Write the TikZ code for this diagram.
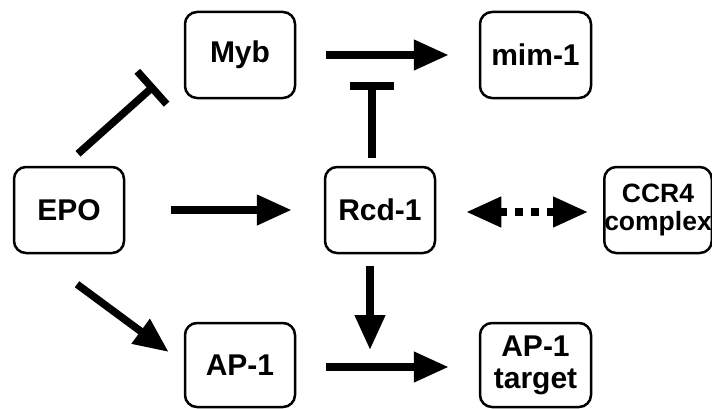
\documentclass[tikz,border=0pt]{standalone}
\usepackage{fontspec}
\setmainfont{Liberation Sans}
\usetikzlibrary{arrows.meta,calc}
\begin{document}
\begin{tikzpicture}[x=1pt,y=1pt,
  box/.style={draw=black,line width=2.5pt,rounded corners=12pt,minimum width=110pt,minimum height=86pt,inner sep=0pt,align=center,font=\fontsize{30}{32}\selectfont\bfseries},
  act/.style={line width=7.5pt,-{Triangle[length=35pt,width=29pt]}},
  inhib/.style={line width=7.5pt,-{Bar[width=44pt,line width=7.5pt]}},
  both/.style={line width=7.5pt,dash pattern=on 8pt off 8pt,{Triangle[length=35pt,width=29pt]}-{Triangle[length=35pt,width=29pt]}}]
\useasboundingbox (0,0) rectangle (712,408);
\node[box] (myb) at (240,353) {Myb};
\node[box,minimum width=111pt] (mim) at (535.5,353) {mim-1};
\node[box] (epo) at (69,198) {EPO};
\node[box] (rcd) at (380,198) {Rcd-1};
\node[box,minimum width=106pt,font=\fontsize{26.5}{28}\selectfont\bfseries] (ccr) at (658,198) {CCR4\\complex};
\node[box,minimum height=84pt] (ap) at (240,43) {AP-1};
\node[box,minimum width=111pt,minimum height=84pt] (apt) at (535.5,43) {AP-1\\target};
\coordinate (inhpt) at (372,353);
\coordinate (actpt) at (370,41);
\draw[act,shorten <=30pt,shorten >=30pt] (myb.east) -- (mim.west);
\draw[inhib,shorten <=-4pt] ([xshift=-8pt]rcd.north) ++(0,12) -- ($(inhpt)+(0,-27)$);
\draw[inhib] ($(epo.north)+(9,12)$) -- ($(myb.south west)+(-29,14)$);
\draw[act,shorten <=46pt,shorten >=32pt] (epo.east) -- (rcd.west);
\draw[act] ($(epo.south)+(8,-30)$) -- ($(ap.west)+(-15,13)$);
\draw[both,shorten <=30pt,shorten >=15pt] ([yshift=-2pt]rcd.east) -- ([yshift=-2pt]ccr.west);
\draw[act] ($(rcd.south)+(-10,-12)$) -- ($(actpt)+(0,17)$);
\draw[act,shorten <=30pt,shorten >=30pt] ([yshift=-2pt]ap.east) -- ([yshift=-2pt]apt.west);
\end{tikzpicture}
\end{document}
